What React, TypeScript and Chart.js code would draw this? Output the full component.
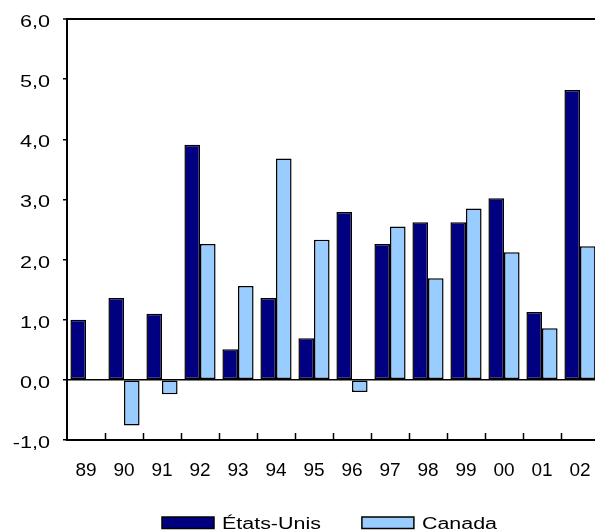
import React, { useEffect, useRef } from 'react';
import { Chart, registerables } from 'chart.js';

Chart.register(...registerables);

const categories = ['89', '90', '91', '92', '93', '94', '95', '96', '97', '98', '99', '00', '01', '02'];
const etatsUnis = [1.0, 1.36, 1.1, 3.91, 0.51, 1.36, 0.69, 2.79, 2.26, 2.62, 2.62, 3.02, 1.13, 4.82];
const canada = [null, -0.76, -0.24, 2.26, 1.56, 3.68, 2.33, -0.2, 2.55, 1.69, 2.85, 2.12, 0.86, 2.22];
const seriesNames = ['États-Unis', 'Canada'];
const seriesColors = ['#000080', '#99CCFF'];
const yMin = -1;
const yMax = 6;
const yStep = 1;

const FONT = "Arial, 'Liberation Sans', sans-serif";
const fmt = (v: number) => v.toFixed(1).replace('.', ',');

const decorPlugin = {
  id: 'decor',
  afterDraw(chart: any) {
    const ctx = chart.ctx;
    const area = chart.chartArea;
    const xs = chart.scales.x;
    const ys = chart.scales.y;
    ctx.save();
    // inside tick marks on category axis
    const step = xs.getPixelForValue(1) - xs.getPixelForValue(0);
    ctx.strokeStyle = '#000';
    ctx.lineWidth = 1.5;
    for (let i = 1; i < categories.length; i++) {
      const px = Math.round(xs.getPixelForValue(i) - step / 2) + 0.5;
      ctx.beginPath();
      ctx.moveTo(px, area.bottom);
      ctx.lineTo(px, area.bottom - 7);
      ctx.stroke();
    }
    // y tick labels (horizontally stretched like the reference)
    ctx.fillStyle = '#000';
    ctx.font = `16px ${FONT}`;
    ctx.textAlign = 'right';
    ctx.textBaseline = 'alphabetic';
    ys.ticks.forEach((t: any) => {
      const py = ys.getPixelForValue(t.value);
      ctx.save();
      ctx.translate(area.left - 17, py + 8);
      ctx.scale(1.35, 1);
      ctx.fillText(fmt(t.value), 0, 0);
      ctx.restore();
    });
    // legend
    const stretch = 1.34;
    const boxW = 52;
    const boxH = 11.5;
    const gap = 8;
    const between = 41;
    ctx.textAlign = 'left';
    const ds = chart.data.datasets;
    const widths = ds.map((d: any) => ctx.measureText(d.label).width * stretch);
    let total = 0;
    widths.forEach((w: number, i: number) => {
      total += boxW + gap + w + (i < widths.length - 1 ? between : 0);
    });
    let x = (area.left + area.right) / 2 - 3.5 - total / 2;
    const boxTop = area.bottom + 77;
    const baseY = area.bottom + 89;
    ds.forEach((d: any, i: number) => {
      ctx.fillStyle = d.backgroundColor;
      ctx.fillRect(x, boxTop, boxW, boxH);
      ctx.strokeStyle = '#000';
      ctx.lineWidth = 1.5;
      ctx.strokeRect(x, boxTop, boxW, boxH);
      ctx.fillStyle = '#000';
      ctx.save();
      ctx.translate(x + boxW + gap, baseY);
      ctx.scale(stretch, 1);
      ctx.fillText(d.label, 0, 0);
      ctx.restore();
      x += boxW + gap + widths[i] + between;
    });
    ctx.restore();
  },
};

export default function App() {
  const ref = useRef<HTMLCanvasElement | null>(null);

  useEffect(() => {
    if (!ref.current) return;
    const chart = new Chart(ref.current, {
      type: 'bar',
      data: {
        labels: categories,
        datasets: [
          {
            label: seriesNames[0],
            data: etatsUnis,
            backgroundColor: seriesColors[0],
            borderColor: '#000',
            borderWidth: 1.5,
            borderSkipped: false,
          },
          {
            label: seriesNames[1],
            data: canada,
            backgroundColor: seriesColors[1],
            borderColor: '#000',
            borderWidth: 1.5,
            borderSkipped: false,
          },
        ],
      },
      options: {
        animation: false,
        responsive: false,
        layout: { padding: { left: 0, right: 11, top: 19, bottom: 0 } },
        datasets: { bar: { categoryPercentage: 0.82, barPercentage: 1.0 } },
        plugins: {
          legend: { display: false },
          tooltip: { enabled: false },
          title: { display: false },
        },
        scales: {
          x: {
            offset: true,
            grid: { display: true, drawOnChartArea: false, drawTicks: false },
            border: { display: true, color: '#000', width: 2 },
            ticks: {
              padding: 19,
              color: '#000',
              font: { family: FONT, size: 19 },
              maxRotation: 0,
              autoSkip: false,
            },
            afterFit: (s: any) => {
              s.height = 91;
            },
          },
          y: {
            min: yMin,
            max: yMax,
            ticks: { stepSize: yStep, display: false },
            grid: {
              drawOnChartArea: true,
              color: (c: any) => (c.tick && (c.tick.value === 0 || c.tick.value === yMax) ? '#000' : 'rgba(0,0,0,0)'),
              lineWidth: (c: any) => (c.tick && c.tick.value === yMax ? 2 : 1.5),
              tickLength: 4,
              tickColor: '#000',
              tickWidth: 1.5,
            },
            border: { display: true, color: '#000', width: 2 },
            afterFit: (s: any) => {
              s.width = 67;
            },
          },
        },
      },
      plugins: [decorPlugin],
    } as any);
    return () => chart.destroy();
  }, []);

  return (
    <div style={{ position: 'absolute', left: 0, top: 0, width: 595, height: 531, overflow: 'hidden', background: '#fff' }}>
      <canvas ref={ref} width={610} height={531} style={{ display: 'block' }} />
    </div>
  );
}
